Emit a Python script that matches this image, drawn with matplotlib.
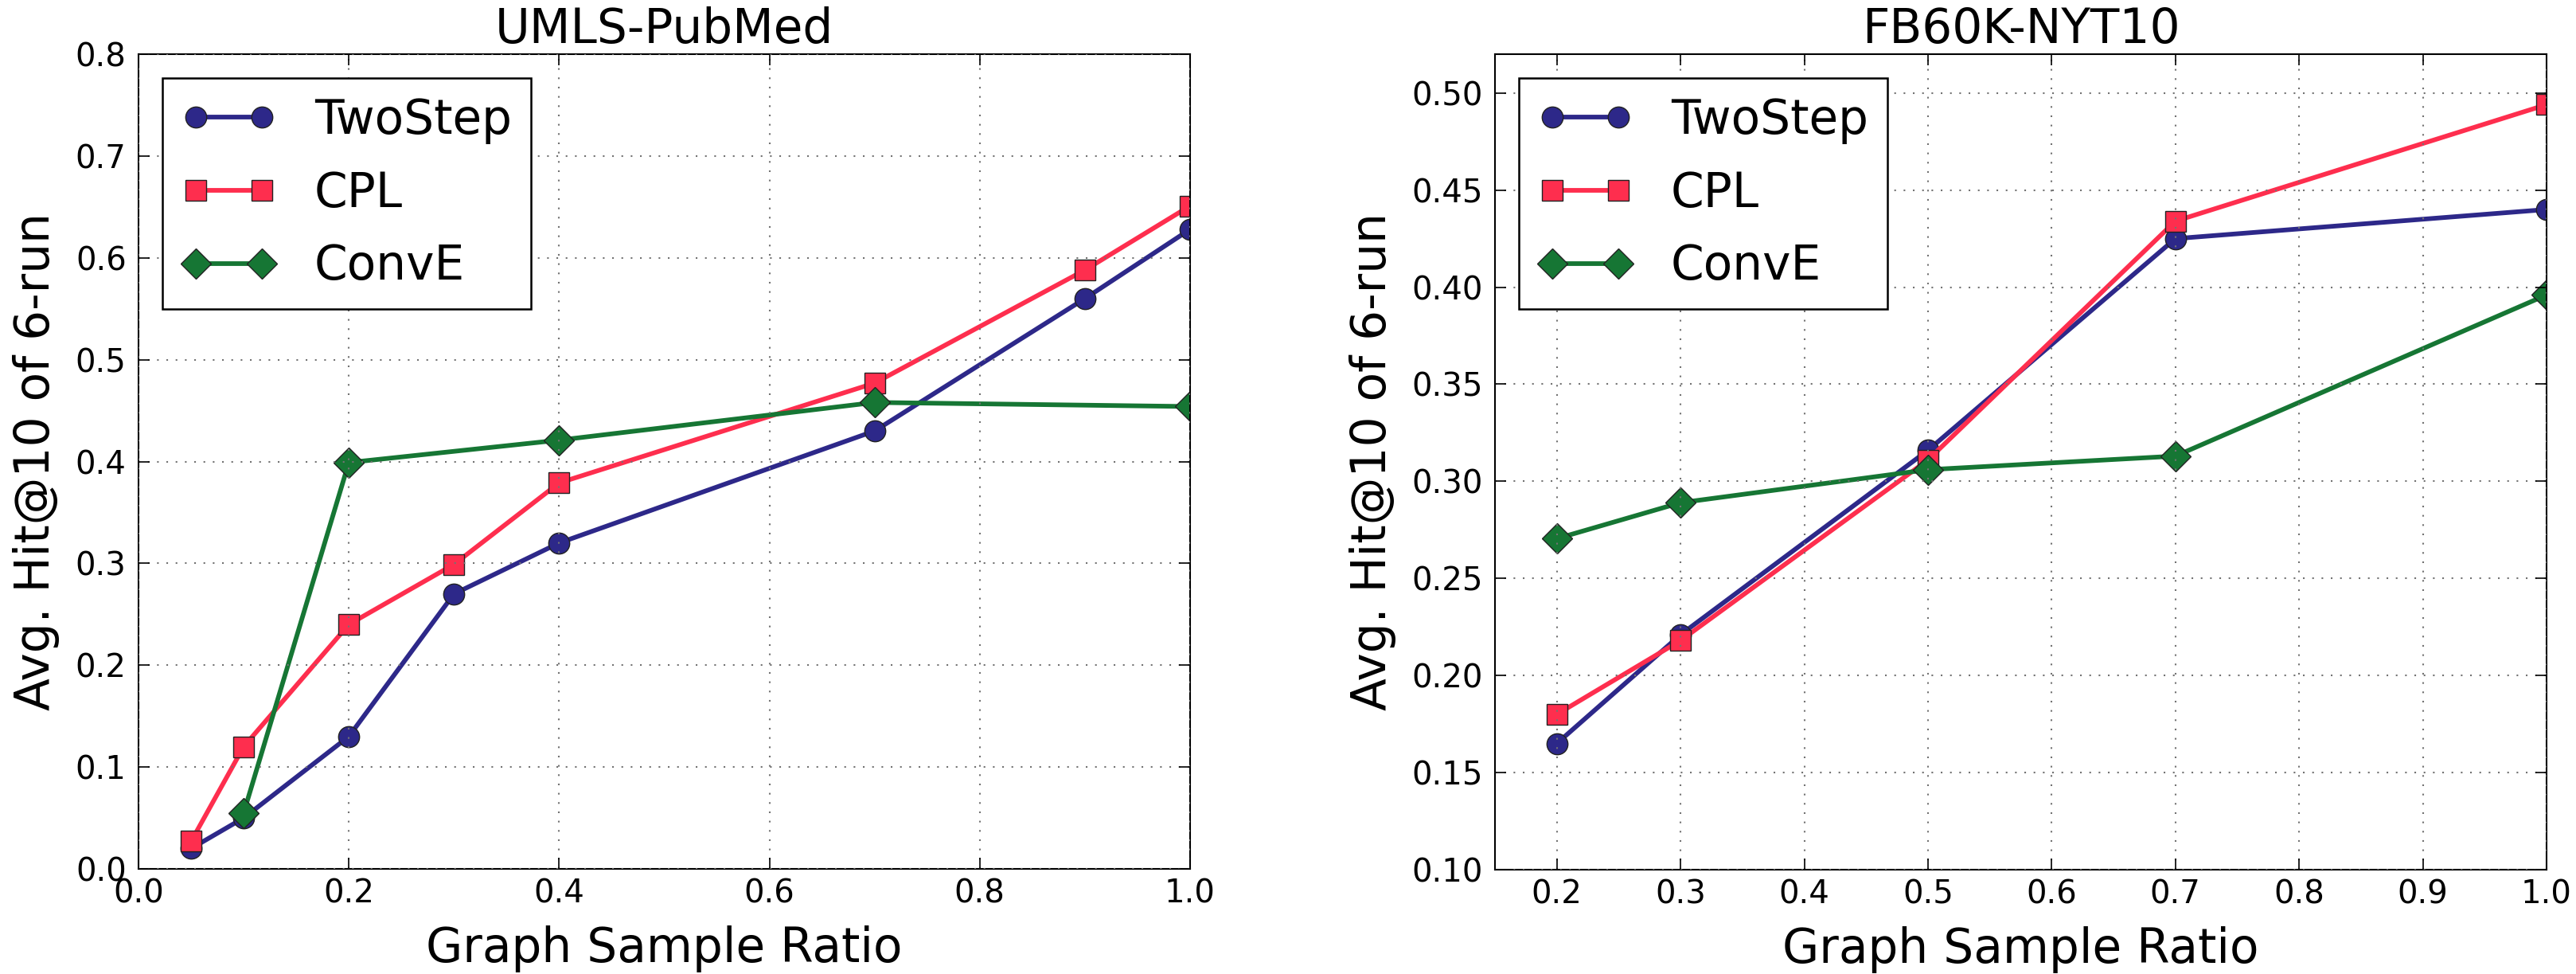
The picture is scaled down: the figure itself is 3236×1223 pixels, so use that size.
import matplotlib
matplotlib.use("Agg")
import matplotlib.pyplot as plt

# UMLS-PubMed
umls_x = [0.05, 0.1, 0.2, 0.3, 0.4, 0.7, 0.9, 1.0]
umls_twostep = [0.02, 0.05, 0.13, 0.27, 0.32, 0.43, 0.56, 0.628]
umls_cpl = [0.027, 0.12, 0.24, 0.299, 0.379, 0.477, 0.588, 0.651]
umls_conve_x = [0.1, 0.2, 0.4, 0.7, 1.0]
umls_conve = [0.055, 0.399, 0.421, 0.458, 0.454]

# FB60K-NYT10
fb_x = [0.2, 0.3, 0.5, 0.7, 1.0]
fb_twostep = [0.165, 0.221, 0.316, 0.425, 0.440]
fb_cpl = [0.180, 0.218, 0.311, 0.434, 0.494]
fb_conve = [0.2705, 0.289, 0.306, 0.313, 0.396]

methods = ["TwoStep", "CPL", "ConvE"]
colors = ["#2d2889", "#fe2e4e", "#167634"]
markers = ["o", "s", "D"]

W, H = 3237, 1223
fig = plt.figure(figsize=(W / 100, H / 100), dpi=100)
fig.patch.set_facecolor("white")

ax1 = fig.add_axes([174 / W, 1 - 1091 / H, (1495 - 174) / W, (1091 - 68) / H])
ax2 = fig.add_axes([1878 / W, 1 - 1092 / H, (3199 - 1878) / W, (1092 - 68) / H])


def draw(ax, series, title, xlim, ylim, xticks, yticks, yfmt):
    for (xs, ys), name, c, m in zip(series, methods, colors, markers):
        ax.plot(xs, ys, color=c, marker=m, markersize=19, linewidth=4.2,
                markeredgecolor="#222222", markeredgewidth=1.0, label=name)
    ax.set_xlim(*xlim)
    ax.set_ylim(*ylim)
    ax.set_xticks(xticks)
    ax.set_yticks(yticks)
    ax.set_xticklabels(["%.1f" % v for v in xticks])
    ax.set_yticklabels([yfmt % v for v in yticks])
    ax.tick_params(direction="in", length=10, width=1.2, top=True, right=True,
                   labelsize=29)
    ax.tick_params(axis="x", pad=8)
    ax.tick_params(axis="y", pad=11)
    ax.set_axisbelow(False)
    ax.grid(True, color="0.45", linestyle=(0, (1, 4.6)), linewidth=1.5)
    for s in ax.spines.values():
        s.set_linewidth(1.5)
    ax.set_title(title, fontsize=43, pad=10)
    ax.set_xlabel("Graph Sample Ratio", fontsize=43, labelpad=14)
    ax.set_ylabel("Avg. Hit@10 of 6-run", fontsize=43, labelpad=14)
    leg = ax.legend(loc="upper left", fontsize=43, numpoints=2, handlelength=2.0,
                    borderpad=0.4, labelspacing=0.55, handletextpad=0.8,
                    borderaxespad=0.5, fancybox=False, framealpha=1)
    leg.get_frame().set_edgecolor("black")
    leg.get_frame().set_linewidth(1.8)


draw(ax1,
     [(umls_x, umls_twostep), (umls_x, umls_cpl), (umls_conve_x, umls_conve)],
     "UMLS-PubMed", (0.0, 1.0), (0.0, 0.8),
     [0.0, 0.2, 0.4, 0.6, 0.8, 1.0],
     [0.0, 0.1, 0.2, 0.3, 0.4, 0.5, 0.6, 0.7, 0.8], "%.1f")

draw(ax2,
     [(fb_x, fb_twostep), (fb_x, fb_cpl), (fb_x, fb_conve)],
     "FB60K-NYT10", (0.15, 1.0), (0.10, 0.52),
     [0.2, 0.3, 0.4, 0.5, 0.6, 0.7, 0.8, 0.9, 1.0],
     [0.10, 0.15, 0.20, 0.25, 0.30, 0.35, 0.40, 0.45, 0.50], "%.2f")

fig.savefig("out.png", dpi=100, facecolor="white")
